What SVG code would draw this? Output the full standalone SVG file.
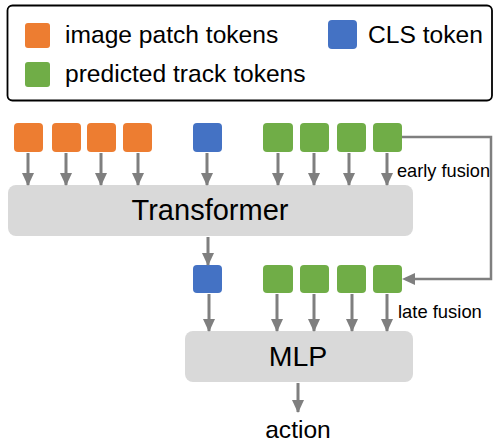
<svg xmlns="http://www.w3.org/2000/svg" width="494" height="445" viewBox="0 0 494 445">
  <defs>
    <marker id="ah" markerUnits="userSpaceOnUse" markerWidth="14" markerHeight="14" viewBox="0 0 14 14" refX="12" refY="7" orient="auto">
      <path d="M0,1 L13,7 L0,13 Z" fill="#7f7f7f"/>
    </marker>
  </defs>
  <style>
    .t { font-family: "Liberation Sans", Arial, sans-serif; fill: #000; }
    .orange { fill: #ed7d31; }
    .blue { fill: #4472c4; }
    .green { fill: #70ad47; }
    .box { fill: #d9d9d9; }
    .arr { stroke: #7f7f7f; stroke-width: 3; fill: none; marker-end: url(#ah); }
    .fb { stroke: #7f7f7f; stroke-width: 2.5; fill: none; }
  </style>
  <rect width="494" height="445" fill="#fff"/>

  <g id="legend">
    <rect x="7.5" y="5.5" width="484.5" height="95" rx="5" fill="#fff" stroke="#000" stroke-width="1.8"/>
    <rect class="orange" x="25" y="23" width="25" height="25" rx="3"/>
    <text class="t" x="65" y="43" font-size="24.6">image patch tokens</text>
    <rect class="blue" x="328" y="20" width="29" height="29" rx="4"/>
    <text class="t" x="368" y="43" font-size="24.6">CLS token</text>
    <rect class="green" x="25" y="62" width="25" height="25" rx="3"/>
    <text class="t" x="65" y="82" font-size="24.6">predicted track tokens</text>
  </g>

  <g id="image-tokens">
    <rect class="orange" x="14" y="123" width="29" height="29" rx="4"/>
    <rect class="orange" x="52" y="123" width="29" height="29" rx="4"/>
    <rect class="orange" x="87" y="123" width="29" height="29" rx="4"/>
    <rect class="orange" x="123" y="123" width="29" height="29" rx="4"/>
  </g>
  <g id="cls-token-in">
    <rect class="blue" x="193" y="123" width="29" height="29" rx="4"/>
  </g>
  <g id="track-tokens-early">
    <rect class="green" x="263" y="123" width="30" height="29" rx="4"/>
    <rect class="green" x="300" y="123" width="29" height="29" rx="4"/>
    <rect class="green" x="337" y="123" width="29" height="29" rx="4"/>
    <rect class="green" x="373" y="123" width="29" height="29" rx="4"/>
  </g>

  <g id="transformer">
    <rect class="box" x="8" y="185" width="405" height="51" rx="8"/>
    <text class="t" x="210" y="220" font-size="29" text-anchor="middle">Transformer</text>
  </g>

  <g id="cls-token-out">
    <rect class="blue" x="193" y="265" width="29" height="28" rx="4"/>
  </g>
  <g id="track-tokens-late">
    <rect class="green" x="263" y="265" width="30" height="28" rx="4"/>
    <rect class="green" x="300" y="265" width="29" height="28" rx="4"/>
    <rect class="green" x="337" y="265" width="29" height="28" rx="4"/>
    <rect class="green" x="373" y="265" width="29" height="28" rx="4"/>
  </g>

  <g id="mlp">
    <rect class="box" x="185" y="331" width="228" height="51" rx="8"/>
    <text class="t" x="298" y="366" font-size="28.5" text-anchor="middle">MLP</text>
  </g>

  <g id="action">
    <text class="t" x="298" y="438" font-size="24.6" text-anchor="middle">action</text>
  </g>

  <g id="labels">
    <text class="t" x="397" y="177" font-size="18.2">early fusion</text>
    <text class="t" x="398" y="318" font-size="18.4">late fusion</text>
  </g>

  <g id="connectors">
    <line class="arr" x1="28" y1="153" x2="28" y2="185"/>
    <line class="arr" x1="66" y1="153" x2="66" y2="185"/>
    <line class="arr" x1="101" y1="153" x2="101" y2="185"/>
    <line class="arr" x1="138" y1="153" x2="138" y2="185"/>
    <line class="arr" x1="207" y1="153" x2="207" y2="185"/>
    <line class="arr" x1="278" y1="153" x2="278" y2="185"/>
    <line class="arr" x1="314" y1="153" x2="314" y2="185"/>
    <line class="arr" x1="349" y1="153" x2="349" y2="185"/>
    <line class="arr" x1="387" y1="153" x2="387" y2="185"/>

    <line class="arr" x1="208" y1="237" x2="208" y2="265"/>

    <line class="arr" x1="209" y1="294" x2="209" y2="331"/>
    <line class="arr" x1="277" y1="294" x2="277" y2="331"/>
    <line class="arr" x1="314" y1="294" x2="314" y2="331"/>
    <line class="arr" x1="352" y1="294" x2="352" y2="331"/>
    <line class="arr" x1="387" y1="294" x2="387" y2="331"/>

    <line class="arr" x1="298" y1="383" x2="298" y2="412"/>

    <polyline class="fb" points="402,137 491,137 491,279 412,279"/>
    <path d="M402,279 L415,273 L415,285 Z" fill="#7f7f7f"/>
  </g>
</svg>
